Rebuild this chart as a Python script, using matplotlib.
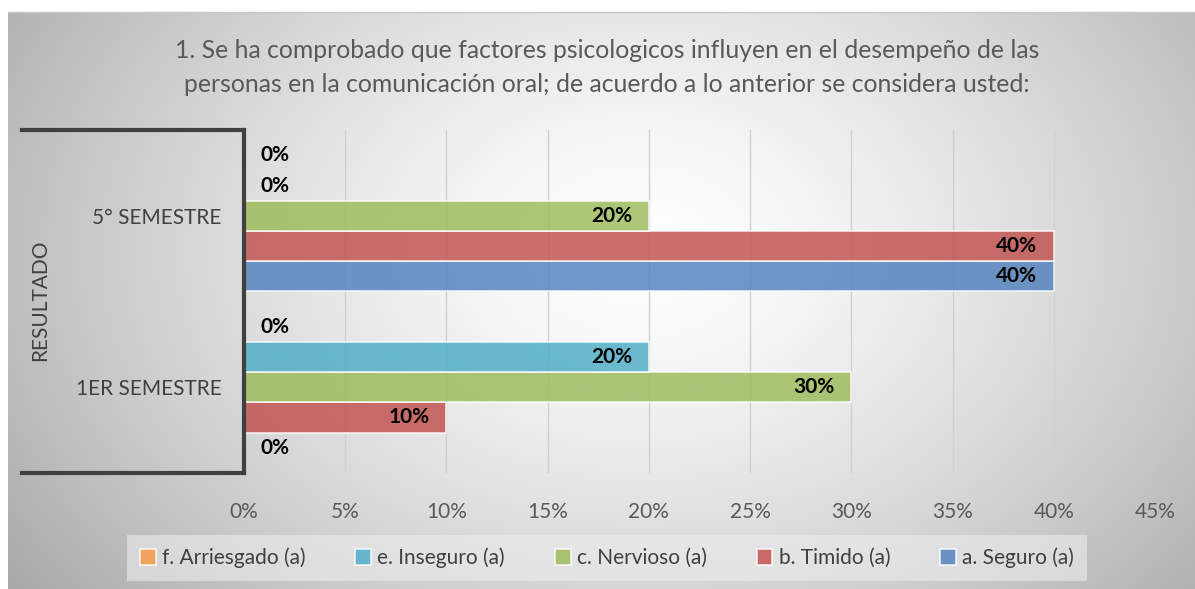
import numpy as np
import matplotlib.pyplot as plt
from matplotlib.lines import Line2D

# data (fractions)
categories = ['1ER SEMESTRE', '5° SEMESTRE']
series_names = ['a. Seguro (a)', 'b. Timido (a)', 'c. Nervioso (a)',
                'e. Inseguro (a)', 'f. Arriesgado (a)']
seguro = [0.0, 0.40]
timido = [0.10, 0.40]
nervioso = [0.30, 0.20]
inseguro = [0.20, 0.0]
arriesgado = [0.0, 0.0]
colors = ['#4F81BD', '#C0504D', '#9BBB59', '#4BACC6', '#F79646']
xticks = [0, 0.05, 0.10, 0.15, 0.20, 0.25, 0.30, 0.35, 0.40, 0.45]

plt.rcParams['font.family'] = ['Lato', 'DejaVu Sans']
W, H = 1195, 589
fig = plt.figure(figsize=(W / 100, H / 100), dpi=100)

# gradient card background
bg = fig.add_axes([0, 0, 1, 1])
yy, xx = np.mgrid[0:H, 0:W]
r = np.sqrt(((xx - 640) / 680.0) ** 2 + ((yy - 250) / 500.0) ** 2)
shade = 1.0 - 0.28 * np.clip(r, 0, 1.15) ** 1.4
img = np.dstack([shade] * 3)
img[:12, :, :] = 1.0
img[:, :8, :] = 1.0
bg.imshow(img, extent=[0, W, H, 0], aspect='auto', interpolation='bilinear')
bg.set_xlim(0, W)
bg.set_ylim(H, 0)
bg.axis('off')
bg.plot([8, W], [12, 12], color='#c8c8c8', lw=1)

# plot area
left, right, top, bottom = 244, 1155, 130, 473
ax = fig.add_axes([left / W, 1 - bottom / H, (right - left) / W, (bottom - top) / H])
ax.patch.set_alpha(0)

series = [seguro, timido, nervioso, inseguro, arriesgado]
h = 0.176
y = np.arange(len(categories))
for i, (vals, name, c) in enumerate(zip(series, series_names, colors)):
    pos = y + (i - 2) * h
    bars = ax.barh(pos, vals, height=h, color=c, alpha=0.82, edgecolor='white',
                   linewidth=1.2, label=name, zorder=3)
    for b, v in zip(bars, vals):
        yc = b.get_y() + b.get_height() / 2
        if v > 0:
            ax.annotate(f'{v:.0%}', (v, yc), xytext=(-12, 0), textcoords='offset points',
                        ha='right', va='center', fontsize=15, fontweight='bold', color='black', zorder=4)
        else:
            ax.annotate('0%', (0, yc), xytext=(12, 0), textcoords='offset points',
                        ha='left', va='center', fontsize=15, fontweight='bold', color='black', zorder=4)

ax.set_xlim(0, 0.45)
ax.set_ylim(-0.5, 1.5)
ax.set_xticks(xticks)
ax.set_xticklabels([f'{t:.0%}' for t in xticks])
ax.set_yticks(y)
ax.set_yticklabels(categories)
ax.tick_params(axis='x', length=0, pad=21, labelsize=15, labelcolor='#595959')
ax.tick_params(axis='y', length=0, pad=16, labelsize=15, labelcolor='#404040')
ax.grid(axis='x', color='#d0d0d0', linewidth=1, zorder=0)
for s in ['top', 'right', 'bottom']:
    ax.spines[s].set_visible(False)
ax.spines['left'].set_color('#404040')
ax.spines['left'].set_linewidth(3)
ax.spines['left'].set_zorder(5)

# bracket around the category axis
bg.add_line(Line2D([22, 244], [130, 130], color='#404040', lw=3))
bg.add_line(Line2D([22, 244], [473, 473], color='#404040', lw=3))
bg.text(40, 300, 'RESULTADO', rotation=90, ha='center', va='center',
        fontsize=15, color='#404040')

# title
bg.text(607, 50, '1. Se ha comprobado que factores psicologicos influyen en el desempeño de las',
        ha='center', va='center', fontsize=17.8, color='#595959')
bg.text(607, 84, 'personas en la comunicación oral; de acuerdo a lo anterior se considera usted:',
        ha='center', va='center', fontsize=17.8, color='#595959')

# legend
handles, labels = ax.get_legend_handles_labels()
leg = fig.legend(handles[::-1], labels[::-1], loc='center', ncol=5,
                 bbox_to_anchor=(607 / W, 1 - 558 / H), frameon=True, fontsize=15,
                 handlelength=0.75, handleheight=0.75, columnspacing=2.4, handletextpad=0.3,
                 borderpad=0.3, borderaxespad=0)
leg.get_frame().set_facecolor('#ececec')
leg.get_frame().set_alpha(0.6)
leg.get_frame().set_edgecolor('none')
leg.get_frame().set_boxstyle('square')
for t in leg.get_texts():
    t.set_color('#404040')

fig.savefig('out.png', dpi=100)
